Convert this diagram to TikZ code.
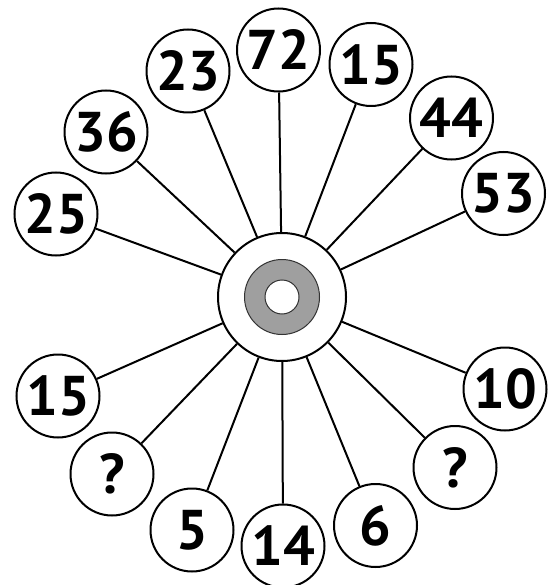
\documentclass[tikz,border=0pt]{standalone}
\usepackage{fontspec}
\setmainfont{PT Sans}
\begin{document}
\begin{tikzpicture}[x=1pt,y=-1pt,
  num/.style={circle,draw,line width=2pt,minimum size=83pt,inner sep=0pt,fill=white,
    font=\fontsize{56}{56}\selectfont\bfseries},
  spoke/.style={line width=2pt}]
\useasboundingbox (0,0) rectangle (557,585);
\fill[white] (0,0) rectangle (557,585);
\node[circle,draw,line width=2pt,minimum size=128pt,inner sep=0pt] (c) at (282,297) {};
\fill[gray!75, draw=black!80, line width=1pt, even odd rule] (282,297) circle (37.5) (282,297) circle (17);
\node[num] (n25) at (56,214) {25};
\node[num] (n36) at (106,132) {36};
\node[num] (n23) at (188,71) {23};
\node[num] (n72) at (278.5,50) {72};
\node[num] (n15a) at (371,64.5) {15};
\node[num] (n44) at (451.5,118) {44};
\node[num] (n53) at (503.5,193.5) {53};
\node[num] (n10) at (505,389) {10};
\node[num] (qr) at (455,467.5) {?};
\node[num] (n6) at (375.5,525.5) {6};
\node[num] (n14) at (283,546) {14};
\node[num] (n5) at (192,530) {5};
\node[num] (ql) at (112,474) {?};
\node[num] (n15b) at (58,396) {15};
\foreach \n in {n25,n36,n23,n72,n15a,n44,n53,n10,qr,n6,n14,n5,ql,n15b}
  \draw[spoke] (\n) -- (c);
\end{tikzpicture}
\end{document}
